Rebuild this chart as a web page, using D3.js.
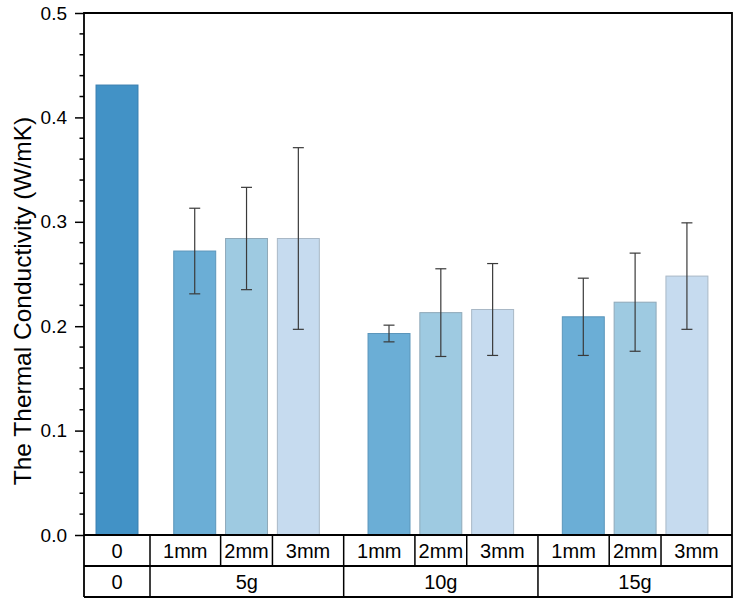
<!DOCTYPE html>
<html>
<head>
<meta charset="utf-8">
<script src="https://cdn.jsdelivr.net/npm/d3@7"></script>
<style>
	body { margin: 0; background: white; }
	text { font-family: "Liberation Sans", Arial, sans-serif; }
</style>
</head>
<body>
<div id="chart"></div>
<script>
(function () {
	"use strict";

	// data
	var groups = ['0', '5g', '10g', '15g'];
	var sizes = [['0'], ['1mm', '2mm', '3mm'], ['1mm', '2mm', '3mm'], ['1mm', '2mm', '3mm']];
	var means = [[0.431], [0.272, 0.284, 0.284], [0.193, 0.213, 0.216], [0.209, 0.223, 0.248]];
	var errors = [[0], [0.041, 0.049, 0.087], [0.008, 0.042, 0.044], [0.037, 0.047, 0.051]];
	var yTicks = [0.0, 0.1, 0.2, 0.3, 0.4, 0.5];

	var WIDTH = 739;
	var HEIGHT = 605;
	var LEFT = 84, RIGHT = 732, TOP = 13, BOTTOM = 535;
	var ROW_H = 31;
	var GROUP_GAP = [0, 1.5, 1.75, 1.75];
	var sizeColors = { '0': '#4292c6', '1mm': '#6baed6', '2mm': '#9ecae1', '3mm': '#c6dbef' };
	var sizeStroke = { '0': '#3a7fb0', '1mm': '#5b96bb', '2mm': '#8fa9b9', '3mm': '#a9b8c6' };

	// flatten into bars with a slot position (gaps between groups)
	var bars = [];
	var pos = 0;
	groups.forEach(function (g, gi) {
		if (gi > 0) { pos += GROUP_GAP[gi]; }
		sizes[gi].forEach(function (s, si) {
			if (si > 0) { pos += 1; }
			bars.push({ group: gi, size: s, pos: pos, value: means[gi][si], err: errors[gi][si] });
		});
	});

	var x = d3.scaleLinear().domain([-0.637, 11.87]).range([LEFT, RIGHT]);
	var y = d3.scaleLinear().domain([0, 0.5]).range([BOTTOM, TOP]);
	var barW = x(0.81) - x(0);

	var svg = d3.select('#chart').append('svg')
		.attr('width', WIDTH)
		.attr('height', HEIGHT);

	// bars
	svg.append('g').selectAll('rect')
		.data(bars)
		.enter()
		.append('rect')
		.attr('x', function (d) { return x(d.pos) - barW / 2; })
		.attr('y', function (d) { return y(d.value); })
		.attr('width', barW)
		.attr('height', function (d) { return y(0) - y(d.value); })
		.attr('fill', function (d) { return sizeColors[d.size]; })
		.attr('stroke', function (d) { return sizeStroke[d.size]; })
		.attr('stroke-width', 1);

	// error bars
	var errG = svg.append('g')
		.selectAll('g')
		.data(bars.filter(function (d) { return d.err > 0; }))
		.enter()
		.append('g')
		.attr('stroke', '#3a3a3a')
		.attr('stroke-width', 1.2);
	errG.append('line')
		.attr('x1', function (d) { return x(d.pos); })
		.attr('x2', function (d) { return x(d.pos); })
		.attr('y1', function (d) { return y(d.value + d.err); })
		.attr('y2', function (d) { return y(d.value - d.err); });
	[1, -1].forEach(function (sign) {
		errG.append('line')
			.attr('x1', function (d) { return x(d.pos) - 5.5; })
			.attr('x2', function (d) { return x(d.pos) + 5.5; })
			.attr('y1', function (d) { return y(d.value + sign * d.err); })
			.attr('y2', function (d) { return y(d.value + sign * d.err); });
	});

	// y axis with minor ticks
	var axisG = svg.append('g').attr('transform', 'translate(' + LEFT + ',0)');
	axisG.call(d3.axisLeft(y).tickValues(yTicks).tickFormat(d3.format('.1f')).tickSize(9).tickPadding(8))
		.call(function (g) {
			g.select('.domain').remove();
			g.selectAll('line').attr('stroke', 'black').attr('stroke-width', 1.5);
			g.selectAll('text').attr('font-size', 19).attr('font-family', '"Liberation Sans", Arial, sans-serif').attr('fill', 'black');
		});
	var minor = d3.range(0, 0.5, 0.02).filter(function (v) { return Math.round(v * 100) % 10 !== 0; });
	axisG.selectAll('.minor')
		.data(minor)
		.enter()
		.append('line')
		.attr('x1', -4.5)
		.attr('x2', 0)
		.attr('y1', function (d) { return y(d); })
		.attr('y2', function (d) { return y(d); })
		.attr('stroke', 'black')
		.attr('stroke-width', 1.5);

	// frame
	svg.append('path')
		.attr('d', 'M' + LEFT + ',' + (BOTTOM + 2 * ROW_H) + 'V' + TOP + 'H' + RIGHT + 'V' + (BOTTOM + 2 * ROW_H) + 'H' + LEFT)
		.attr('fill', 'none')
		.attr('stroke', 'black')
		.attr('stroke-width', 1.8);
	svg.append('line')
		.attr('x1', LEFT).attr('x2', RIGHT)
		.attr('y1', y(0)).attr('y2', y(0))
		.attr('stroke', 'black').attr('stroke-width', 1.8);

	// table below the axis
	var groupBounds = [];
	var firstBar = bars[0];
	groupBounds.push(x.invert(LEFT));
	groups.forEach(function (g, gi) {
		if (gi === 0) {
			groupBounds.push(2 * firstBar.pos - x.invert(LEFT));
			return;
		}
		var inGroup = bars.filter(function (b) { return b.group === gi; });
		var next = bars.filter(function (b) { return b.group === gi + 1; });
		groupBounds.push(next.length ? (inGroup[inGroup.length - 1].pos + next[0].pos) / 2 : x.invert(RIGHT));
	});

	var cells1 = [];
	var cells2 = [];
	groups.forEach(function (g, gi) {
		var lo = groupBounds[gi], hi = groupBounds[gi + 1];
		cells2.push({ text: g, lo: lo, hi: hi });
		var inGroup = bars.filter(function (b) { return b.group === gi; });
		if (inGroup.length === 1) {
			cells1.push({ text: inGroup[0].size, lo: lo, hi: hi });
		} else {
			var mid = inGroup[1].pos;
			cells1.push({ text: inGroup[0].size, lo: lo, hi: mid - 0.5 });
			cells1.push({ text: inGroup[1].size, lo: mid - 0.5, hi: mid + 0.5 });
			cells1.push({ text: inGroup[2].size, lo: mid + 0.5, hi: hi });
		}
	});

	function drawRow(cells, top) {
		var row = svg.append('g');
		row.append('line')
			.attr('x1', LEFT).attr('x2', RIGHT)
			.attr('y1', top + ROW_H).attr('y2', top + ROW_H)
			.attr('stroke', 'black').attr('stroke-width', 1.8);
		row.selectAll('.sep')
			.data(cells.slice(1))
			.enter()
			.append('line')
			.attr('x1', function (d) { return x(d.lo); })
			.attr('x2', function (d) { return x(d.lo); })
			.attr('y1', top).attr('y2', top + ROW_H)
			.attr('stroke', 'black').attr('stroke-width', 1.5);
		row.selectAll('text')
			.data(cells)
			.enter()
			.append('text')
			.attr('x', function (d) { return (x(d.lo) + x(d.hi)) / 2; })
			.attr('y', top + ROW_H / 2 + 7)
			.attr('text-anchor', 'middle')
			.attr('font-size', 20)
			.text(function (d) { return d.text; });
	}
	drawRow(cells1, BOTTOM);
	drawRow(cells2, BOTTOM + ROW_H);

	// y axis title
	svg.append('text')
		.attr('transform', 'translate(31,' + ((TOP + BOTTOM) / 2 + 27) + ') rotate(-90)')
		.attr('text-anchor', 'middle')
		.attr('font-size', 24.5)
		.text('The Thermal Conductivity (W/mK)');
}());
</script>
</body>
</html>
